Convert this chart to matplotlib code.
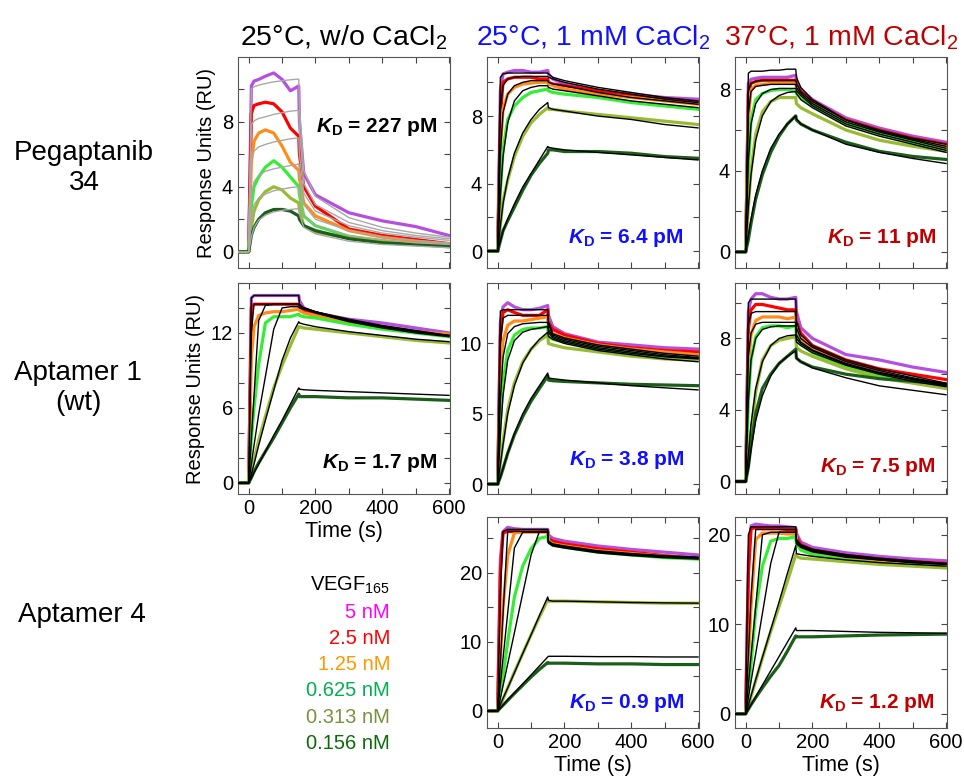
import matplotlib
matplotlib.use('Agg')
import matplotlib.pyplot as plt
from matplotlib.ticker import MultipleLocator

plt.rcParams['font.family'] = ['Liberation Sans', 'DejaVu Sans']
plt.rcParams['mathtext.fontset'] = 'custom'
plt.rcParams['mathtext.rm'] = 'Liberation Sans'
plt.rcParams['mathtext.it'] = 'Liberation Sans:italic:bold'
plt.rcParams['mathtext.bf'] = 'Liberation Sans:bold'

# time grid (s) shared by all sensorgrams
time_s = [-30, 0, 8, 16, 30, 50, 75, 100, 125, 150, 152, 165, 200, 300, 400, 500, 600]

conc_labels = ['5 nM', '2.5 nM', '1.25 nM', '0.625 nM', '0.313 nM', '0.156 nM']
legend_colors = ['#ff00ff', '#ff0000', '#ff9900', '#00b050', '#77933c', '#0b6b0b']
trace_colors = ['#b44fe0', '#ff0000', '#ff8c1a', '#33ee33', '#99bb33', '#1a5e1a']

col_titles = ['25°C, w/o CaCl$_2$', '25°C, 1 mM CaCl$_2$', '37°C, 1 mM CaCl$_2$']
title_colors = ['black', '#1010ff', '#c00000']
row_titles = ['Pegaptanib\n34', 'Aptamer 1\n(wt)', 'Aptamer 4']

# Pegaptanib, 25 C w/o CaCl2
peg_a_data = [
    [0, 0, 10.2, 10.5, 10.6, 10.8, 11.0, 10.6, 9.9, 10.2, 8.0, 4.8, 3.5, 2.4, 1.9, 1.55, 1.0],
    [0, 0, 8.5, 9.0, 9.1, 9.2, 9.1, 8.6, 7.6, 7.1, 6.0, 4.0, 2.8, 1.4, 1.0, 0.75, 0.5],
    [0, 0, 5.5, 6.8, 7.3, 7.5, 7.3, 6.5, 5.5, 5.0, 4.5, 3.0, 2.2, 1.3, 0.9, 0.65, 0.45],
    [0, 0, 2.8, 4.0, 4.6, 5.2, 5.6, 5.2, 4.6, 4.0, 3.5, 2.2, 1.6, 0.95, 0.65, 0.45, 0.3],
    [0, 0, 1.5, 2.5, 3.2, 3.7, 4.0, 3.8, 3.3, 3.0, 2.6, 1.6, 1.2, 0.85, 0.6, 0.5, 0.4],
    [0, 0, 1.0, 1.5, 2.0, 2.4, 2.6, 2.6, 2.5, 2.2, 2.0, 1.6, 1.3, 0.8, 0.55, 0.45, 0.35],
]
peg_a_fit = [
    [0, 0, 10.0, 10.15, 10.25, 10.35, 10.45, 10.52, 10.58, 10.62, 9.0, 5.0, 3.4, 2.1, 1.5, 1.15, 0.9],
    [0, 0, 7.8, 8.05, 8.2, 8.3, 8.45, 8.55, 8.65, 8.7, 7.5, 4.2, 2.9, 1.8, 1.3, 1.0, 0.8],
    [0, 0, 5.6, 6.2, 6.45, 6.6, 6.75, 6.85, 6.95, 7.0, 6.0, 3.6, 2.5, 1.6, 1.15, 0.9, 0.7],
    [0, 0, 3.5, 4.3, 4.7, 4.95, 5.1, 5.2, 5.3, 5.4, 4.7, 2.9, 2.0, 1.3, 0.9, 0.7, 0.55],
    [0, 0, 2.0, 2.9, 3.3, 3.55, 3.75, 3.85, 3.95, 4.0, 3.5, 2.2, 1.6, 1.0, 0.75, 0.55, 0.45],
    [0, 0, 0.9, 1.5, 1.95, 2.25, 2.45, 2.55, 2.6, 2.65, 2.3, 1.5, 1.1, 0.65, 0.45, 0.35, 0.25],
]

# Pegaptanib, 25 C 1 mM CaCl2
peg_b_data = [
    [0, 0, 9.5, 10.5, 10.6, 10.7, 10.7, 10.6, 10.6, 10.7, 10.5, 10.2, 9.9, 9.5, 9.3, 9.1, 9.0],
    [0, 0, 8.0, 10.0, 10.2, 10.3, 10.3, 10.3, 10.2, 10.2, 10.0, 9.9, 9.8, 9.5, 9.2, 9.0, 8.8],
    [0, 0, 6.0, 8.4, 9.3, 9.7, 9.9, 9.95, 10.0, 10.0, 9.9, 9.8, 9.6, 9.3, 9.1, 8.9, 8.7],
    [0, 0, 3.5, 6.0, 7.8, 8.6, 9.1, 9.4, 9.5, 9.6, 9.5, 9.4, 9.3, 9.1, 8.8, 8.6, 8.4],
    [0, 0, 1.5, 3.0, 4.2, 5.6, 6.8, 7.6, 8.1, 8.5, 8.4, 8.4, 8.3, 8.1, 7.9, 7.7, 7.5],
    [0, 0, 0.6, 1.2, 1.8, 2.6, 3.6, 4.5, 5.2, 5.8, 6.0, 6.0, 5.9, 5.9, 5.8, 5.6, 5.5],
]
peg_b_fit = [
    [0, 0, 10.3, 10.5, 10.55, 10.55, 10.55, 10.55, 10.55, 10.55, 10.5, 10.3, 10.1, 9.7, 9.4, 9.1, 8.9],
    [0, 0, 8.4, 9.8, 10.2, 10.3, 10.35, 10.35, 10.35, 10.35, 10.3, 10.2, 10.0, 9.6, 9.3, 9.0, 8.8],
    [0, 0, 5.8, 8.2, 9.3, 9.8, 10.0, 10.1, 10.1, 10.1, 10.0, 9.9, 9.8, 9.4, 9.1, 8.9, 8.7],
    [0, 0, 3.3, 5.6, 7.6, 8.9, 9.5, 9.7, 9.8, 9.8, 9.7, 9.6, 9.5, 9.2, 8.9, 8.7, 8.5],
    [0, 0, 1.5, 2.8, 4.3, 5.8, 7.0, 7.8, 8.4, 8.8, 8.5, 8.4, 8.3, 8.0, 7.8, 7.5, 7.3],
    [0, 0, 0.6, 1.2, 1.9, 2.8, 3.8, 4.6, 5.4, 6.2, 6.15, 6.1, 6.0, 5.85, 5.7, 5.55, 5.4],
]

# Pegaptanib, 37 C 1 mM CaCl2
peg_c_data = [
    [0, 0, 8.3, 8.5, 8.55, 8.6, 8.6, 8.6, 8.6, 8.7, 8.4, 8.0, 7.5, 6.6, 6.1, 5.7, 5.4],
    [0, 0, 7.8, 8.3, 8.4, 8.45, 8.45, 8.45, 8.45, 8.45, 8.2, 7.9, 7.4, 6.5, 6.0, 5.6, 5.3],
    [0, 0, 6.5, 8.0, 8.2, 8.25, 8.3, 8.3, 8.3, 8.3, 8.1, 7.8, 7.3, 6.4, 5.9, 5.5, 5.2],
    [0, 0, 4.2, 6.5, 7.5, 7.8, 7.95, 8.0, 8.0, 7.9, 7.8, 7.6, 7.2, 6.3, 5.8, 5.4, 5.0],
    [0, 0, 2.2, 4.0, 5.8, 6.9, 7.4, 7.6, 7.6, 7.6, 7.3, 7.1, 6.8, 6.0, 5.5, 5.2, 4.95],
    [0, 0, 0.6, 1.4, 2.6, 3.8, 4.9, 5.7, 6.3, 6.7, 6.5, 6.3, 6.0, 5.4, 4.95, 4.7, 4.55],
]
peg_c_fit = [
    [0, 0, 8.8, 8.9, 8.9, 8.9, 8.95, 8.95, 9.0, 9.0, 8.6, 8.1, 7.5, 6.5, 6.0, 5.6, 5.3],
    [0, 0, 7.9, 8.3, 8.4, 8.45, 8.45, 8.45, 8.45, 8.45, 8.3, 7.9, 7.4, 6.5, 5.95, 5.55, 5.2],
    [0, 0, 6.8, 7.9, 8.15, 8.2, 8.25, 8.25, 8.25, 8.25, 8.1, 7.8, 7.3, 6.4, 5.9, 5.5, 5.1],
    [0, 0, 4.5, 6.3, 7.3, 7.8, 8.0, 8.05, 8.05, 8.05, 7.95, 7.7, 7.2, 6.3, 5.8, 5.4, 5.0],
    [0, 0, 2.2, 3.8, 5.5, 6.7, 7.4, 7.7, 7.85, 7.9, 7.8, 7.5, 7.1, 6.2, 5.7, 5.3, 4.9],
    [0, 0, 0.8, 1.6, 2.8, 4.0, 5.1, 5.8, 6.3, 6.7, 6.55, 6.3, 6.0, 5.3, 4.9, 4.6, 4.35],
]

# Aptamer 1 (wt), 25 C w/o CaCl2
apt1_a_data = [
    [0, 0, 14.8, 15.0, 15.0, 15.0, 15.0, 15.0, 15.0, 15.0, 14.6, 14.0, 13.6, 13.1, 12.8, 12.4, 12.0],
    [0, 0, 14.0, 14.3, 14.3, 14.3, 14.3, 14.3, 14.3, 14.3, 14.1, 13.8, 13.5, 12.9, 12.5, 12.1, 11.8],
    [0, 0, 10.0, 12.5, 13.4, 13.6, 13.7, 13.7, 13.8, 13.9, 13.8, 13.6, 13.4, 12.8, 12.4, 12.1, 11.9],
    [0, 0, 3.5, 6.0, 9.5, 12.8, 13.3, 13.3, 13.3, 13.5, 13.4, 13.3, 13.2, 12.7, 12.3, 12.0, 11.7],
    [0, 0, 1.0, 1.8, 3.4, 5.3, 7.6, 9.4, 11.0, 12.5, 12.5, 12.4, 12.3, 12.0, 11.7, 11.4, 11.2],
    [0, 0, 0.4, 0.9, 1.6, 2.5, 3.6, 4.8, 6.0, 7.1, 6.9, 6.9, 6.9, 6.8, 6.8, 6.7, 6.6],
]
apt1_a_fit = [
    [0, 0, 14.8, 15.0, 15.0, 15.0, 15.0, 15.0, 15.0, 15.0, 14.3, 14.0, 13.7, 13.1, 12.6, 12.2, 11.8],
    [0, 0, 12.0, 14.3, 14.3, 14.3, 14.3, 14.3, 14.3, 14.3, 14.2, 14.0, 13.7, 13.0, 12.5, 12.1, 11.8],
    [0, 0, 3.5, 7.0, 13.0, 14.2, 14.3, 14.3, 14.3, 14.3, 14.2, 14.0, 13.7, 13.0, 12.5, 12.1, 11.8],
    [0, 0, 1.5, 3.0, 5.5, 8.5, 12.3, 14.0, 14.1, 14.1, 14.0, 13.9, 13.6, 12.9, 12.4, 12.0, 11.7],
    [0, 0, 0.7, 1.5, 3.0, 5.0, 7.4, 9.8, 11.6, 12.9, 12.8, 12.7, 12.5, 12.1, 11.8, 11.5, 11.3],
    [0, 0, 0.4, 0.8, 1.5, 2.5, 3.8, 5.0, 6.3, 7.6, 7.5, 7.45, 7.4, 7.3, 7.2, 7.1, 7.0],
]

# Aptamer 1 (wt), 25 C 1 mM CaCl2
apt1_b_data = [
    [0, 0, 11.5, 12.6, 12.9, 12.6, 12.4, 12.4, 12.5, 12.7, 12.0, 11.2, 10.7, 10.1, 9.9, 9.7, 9.6],
    [0, 0, 10.5, 12.2, 12.4, 12.2, 12.0, 12.0, 12.0, 12.4, 11.5, 11.0, 10.6, 10.0, 9.7, 9.5, 9.4],
    [0, 0, 7.5, 10.2, 11.3, 11.6, 11.6, 11.7, 11.8, 11.9, 11.0, 10.7, 10.4, 9.9, 9.6, 9.4, 9.2],
    [0, 0, 4.5, 7.2, 9.5, 10.6, 11.0, 11.1, 11.1, 11.2, 10.5, 10.3, 10.1, 9.6, 9.3, 9.1, 8.9],
    [0, 0, 1.5, 3.0, 5.3, 7.2, 8.7, 9.6, 10.2, 10.6, 10.0, 9.9, 9.7, 9.4, 9.1, 8.9, 8.8],
    [0, 0, 0.5, 1.1, 2.2, 3.5, 4.8, 5.9, 6.8, 7.7, 7.4, 7.35, 7.3, 7.2, 7.1, 7.05, 7.0],
]
apt1_b_fit = [
    [0, 0, 12.3, 12.4, 12.4, 12.4, 12.4, 12.4, 12.4, 12.4, 11.6, 10.7, 10.4, 9.9, 9.6, 9.3, 9.1],
    [0, 0, 10.0, 11.8, 12.0, 12.0, 12.0, 12.0, 12.0, 12.0, 11.4, 10.6, 10.3, 9.8, 9.5, 9.2, 9.0],
    [0, 0, 6.0, 9.0, 10.7, 11.2, 11.4, 11.45, 11.5, 11.5, 11.0, 10.5, 10.2, 9.7, 9.4, 9.1, 8.95],
    [0, 0, 3.5, 6.3, 8.8, 10.2, 10.8, 11.0, 11.1, 11.2, 10.8, 10.4, 10.1, 9.6, 9.3, 9.05, 8.9],
    [0, 0, 1.4, 2.8, 5.0, 7.0, 8.6, 9.6, 10.3, 10.8, 10.5, 10.3, 10.0, 9.5, 9.2, 8.9, 8.7],
    [0, 0, 0.5, 1.1, 2.2, 3.6, 5.0, 6.1, 7.0, 7.9, 7.55, 7.5, 7.4, 7.2, 7.0, 6.85, 6.7],
]

# Aptamer 1 (wt), 37 C 1 mM CaCl2
apt1_c_data = [
    [0, 0, 9.5, 10.2, 10.5, 10.5, 10.3, 10.2, 10.2, 10.3, 9.5, 8.6, 8.0, 7.1, 6.8, 6.4, 6.1],
    [0, 0, 8.5, 9.6, 9.9, 9.9, 9.8, 9.7, 9.6, 9.6, 8.9, 8.3, 7.6, 6.8, 6.3, 6.0, 5.7],
    [0, 0, 6.5, 8.2, 9.0, 9.2, 9.2, 9.2, 9.1, 9.2, 8.5, 8.0, 7.4, 6.6, 6.1, 5.7, 5.45],
    [0, 0, 4.5, 6.8, 8.1, 8.6, 8.7, 8.7, 8.6, 8.7, 8.1, 7.7, 7.2, 6.4, 5.9, 5.55, 5.3],
    [0, 0, 1.2, 2.8, 5.0, 6.8, 7.6, 7.9, 8.0, 8.1, 7.5, 7.3, 7.0, 6.3, 5.8, 5.5, 5.2],
    [0, 0, 0.8, 2.0, 3.8, 5.2, 6.0, 6.6, 7.0, 7.4, 6.9, 6.7, 6.4, 6.0, 5.75, 5.6, 5.45],
]
apt1_c_fit = [
    [0, 0, 10.0, 10.2, 10.2, 10.2, 10.2, 10.2, 10.2, 10.2, 9.0, 8.2, 7.6, 6.8, 6.3, 5.9, 5.5],
    [0, 0, 8.8, 9.4, 9.5, 9.5, 9.5, 9.5, 9.5, 9.5, 8.6, 8.0, 7.5, 6.7, 6.2, 5.8, 5.45],
    [0, 0, 7.0, 8.3, 8.8, 8.9, 8.9, 8.9, 8.9, 8.9, 8.2, 7.8, 7.35, 6.6, 6.1, 5.75, 5.4],
    [0, 0, 4.5, 6.8, 8.0, 8.5, 8.65, 8.7, 8.7, 8.7, 8.0, 7.7, 7.3, 6.55, 6.05, 5.7, 5.35],
    [0, 0, 1.5, 3.2, 5.2, 6.7, 7.6, 8.0, 8.15, 8.2, 7.8, 7.6, 7.2, 6.5, 6.0, 5.6, 5.3],
    [0, 0, 0.7, 1.8, 3.4, 4.8, 5.9, 6.6, 7.0, 7.3, 6.9, 6.7, 6.35, 5.8, 5.35, 5.1, 4.85],
]

# Aptamer 4, 25 C 1 mM CaCl2
apt4_b_data = [
    [0, 0, 22.0, 26.0, 26.6, 26.4, 26.3, 26.3, 26.3, 26.3, 25.5, 25.0, 24.6, 23.9, 23.4, 23.0, 22.6],
    [0, 0, 20.0, 25.8, 26.0, 26.0, 26.0, 26.0, 26.0, 26.0, 25.0, 24.6, 24.2, 23.5, 23.0, 22.5, 22.1],
    [0, 0, 7.5, 15.0, 22.5, 25.8, 25.9, 25.9, 25.9, 25.9, 24.6, 24.2, 23.9, 23.2, 22.8, 22.4, 22.1],
    [0, 0, 2.5, 5.0, 10.0, 16.5, 21.0, 23.5, 25.0, 25.3, 24.5, 24.0, 23.7, 23.0, 22.6, 22.2, 22.0],
    [0, 0, 0.8, 1.7, 3.3, 5.6, 8.3, 11.0, 13.6, 16.1, 15.9, 15.9, 15.9, 15.8, 15.7, 15.6, 15.6],
    [0, 0, 0.4, 0.8, 1.5, 2.5, 3.7, 4.9, 6.0, 7.0, 6.9, 6.9, 6.9, 6.8, 6.8, 6.7, 6.7],
]
apt4_b_fit = [
    [0, 0, 17.0, 26.0, 26.3, 26.3, 26.3, 26.3, 26.3, 26.3, 24.6, 24.2, 23.9, 23.2, 22.8, 22.5, 22.3],
    [0, 0, 7.0, 14.0, 26.0, 26.0, 26.0, 26.0, 26.0, 26.0, 24.5, 24.1, 23.8, 23.1, 22.7, 22.4, 22.2],
    [0, 0, 3.8, 7.6, 14.2, 23.6, 25.9, 25.9, 25.9, 25.9, 24.4, 24.0, 23.7, 23.0, 22.6, 22.3, 22.1],
    [0, 0, 1.8, 3.6, 6.8, 11.3, 17.0, 22.6, 26.0, 26.0, 24.3, 23.9, 23.6, 22.9, 22.5, 22.2, 22.0],
    [0, 0, 0.9, 1.8, 3.3, 5.5, 8.3, 11.0, 13.8, 16.5, 16.0, 15.9, 15.9, 15.8, 15.7, 15.65, 15.6],
    [0, 0, 0.4, 0.8, 1.6, 2.6, 3.9, 5.2, 6.5, 7.8, 7.9, 7.9, 7.9, 7.85, 7.85, 7.8, 7.8],
]

# Aptamer 4, 37 C 1 mM CaCl2
apt4_c_data = [
    [0, 0, 17.0, 21.0, 21.2, 21.1, 21.0, 21.0, 20.9, 20.8, 20.2, 19.2, 18.6, 18.0, 17.6, 17.3, 17.1],
    [0, 0, 15.5, 20.7, 20.8, 20.7, 20.7, 20.7, 20.6, 20.6, 19.8, 18.9, 18.3, 17.7, 17.3, 17.0, 16.8],
    [0, 0, 5.5, 12.0, 19.5, 20.2, 20.2, 20.2, 20.1, 20.1, 19.4, 18.6, 18.0, 17.4, 17.0, 16.7, 16.5],
    [0, 0, 2.5, 5.5, 11.5, 16.5, 19.3, 19.6, 19.6, 19.8, 19.0, 18.3, 17.8, 17.2, 16.8, 16.6, 16.4],
    [0, 0, 0.9, 1.9, 3.7, 6.2, 9.2, 12.0, 14.8, 17.8, 17.6, 17.4, 17.3, 17.0, 16.7, 16.5, 16.3],
    [0, 0, 0.5, 1.0, 1.8, 2.9, 4.2, 5.4, 7.0, 8.7, 8.6, 8.6, 8.6, 8.7, 8.8, 8.85, 8.9],
]
apt4_c_fit = [
    [0, 0, 20.0, 20.9, 20.9, 20.9, 20.9, 20.9, 20.9, 20.9, 19.5, 18.9, 18.4, 17.8, 17.4, 17.1, 16.8],
    [0, 0, 6.5, 13.0, 20.6, 20.6, 20.6, 20.6, 20.6, 20.6, 19.3, 18.8, 18.3, 17.7, 17.3, 17.0, 16.8],
    [0, 0, 3.2, 6.4, 12.0, 20.0, 20.3, 20.3, 20.3, 20.3, 19.1, 18.7, 18.2, 17.6, 17.2, 16.9, 16.7],
    [0, 0, 1.8, 3.6, 6.7, 11.2, 16.8, 20.3, 20.3, 20.3, 19.0, 18.6, 18.1, 17.5, 17.2, 16.9, 16.7],
    [0, 0, 1.0, 2.0, 3.8, 6.3, 9.4, 12.5, 15.7, 18.8, 17.9, 17.8, 17.6, 17.2, 16.9, 16.7, 16.5],
    [0, 0, 0.5, 1.0, 1.9, 3.2, 4.8, 6.4, 8.0, 9.6, 9.3, 9.3, 9.3, 9.2, 9.1, 9.05, 9.0],
]

kd_values = {(0, 0): '227', (0, 1): '6.4', (0, 2): '11',
             (1, 0): '1.7', (1, 1): '3.8', (1, 2): '7.5',
             (2, 1): '0.9', (2, 2): '1.2'}

# row, col, data, fit, ylim, major step, minor step, kd text anchor (axes frac)
panels = [
    (0, 0, peg_a_data, peg_a_fit, (-1.0, 11.98), 4, 2, (0.94, 0.645)),
    (0, 1, peg_b_data, peg_b_fit, (-1.0, 11.5), 4, 2, (0.925, 0.117)),
    (0, 2, peg_c_data, peg_c_fit, (-0.8, 9.6), 4, 2, (0.953, 0.117)),
    (1, 0, apt1_a_data, apt1_a_fit, (-0.9, 16.0), 6, 2, (0.94, 0.122)),
    (1, 1, apt1_b_data, apt1_b_fit, (-0.7, 14.3), 5, 5, (0.934, 0.137)),
    (1, 2, apt1_c_data, apt1_c_fit, (-0.7, 11.1), 4, 2, (0.948, 0.106)),
    (2, 1, apt4_b_data, apt4_b_fit, (-2.5, 28.1), 10, 5, (0.934, 0.093)),
    (2, 2, apt4_c_data, apt4_c_fit, (-1.6, 22.0), 10, 5, (0.94, 0.093)),
]

W, H = 964, 782
fig = plt.figure(figsize=(W / 100, H / 100), dpi=100)

col_left = [238, 487, 735]
row_top = [57, 283, 517]
ax_w, ax_h = 212, 211

for row, col, data, fit, ylim, major, minor, kdpos in panels:
    ax = fig.add_axes([col_left[col] / W, 1 - (row_top[row] + ax_h) / H, ax_w / W, ax_h / H])
    for i in range(6):
        ax.plot(time_s, data[i], color=trace_colors[i], lw=2.3, solid_joinstyle='round', zorder=2)
    fit_color = '#a8a8a8' if col == 0 and row == 0 else 'black'
    for i in range(6):
        ax.plot(time_s, fit[i], color=fit_color, lw=1.0, zorder=3)

    ax.set_xlim(-32, 603)
    ax.set_ylim(*ylim)
    ax.xaxis.set_major_locator(MultipleLocator(200))
    ax.xaxis.set_minor_locator(MultipleLocator(100))
    ax.yaxis.set_major_locator(MultipleLocator(major))
    ax.yaxis.set_minor_locator(MultipleLocator(minor))
    ax.tick_params(which='both', direction='in', top=True, right=True,
                   labelsize=14.5, color='#444444', width=0.8, length=4)
    for s in ax.spines.values():
        s.set_color('#555555')
        s.set_linewidth(0.8)

    show_x = (row == 1 and col == 0) or row == 2
    if show_x:
        ax.set_xlabel('Time (s)', fontsize=15.5, labelpad=2)
    else:
        ax.tick_params(labelbottom=False)
    if col == 0:
        ax.set_ylabel('Response Units (RU)', fontsize=14.5, labelpad=4)

    ax.text(kdpos[0], kdpos[1], r'$\mathit{K}_{\mathbf{D}}$ = ' + kd_values[(row, col)] + ' pM',
            transform=ax.transAxes, ha='right', va='baseline', fontsize=15,
            fontweight='bold', color=title_colors[col], zorder=5)

# column titles
for col in range(3):
    fig.text((col_left[col] + ax_w / 2) / W, 1 - 38 / H, col_titles[col],
             ha='center', va='center', fontsize=20.5, color=title_colors[col])

# row titles
row_y = [168, 388, 615]
row_x = [84, 78, 82]
for r in range(3):
    fig.text(row_x[r] / W, 1 - row_y[r] / H, row_titles[r], ha='center', va='center',
             fontsize=20, linespacing=1.2)

# concentration legend
fig.text(390 / W, 1 - 585 / H, 'VEGF$_{165}$', ha='right', va='center', fontsize=14.5)
for i, lab in enumerate(conc_labels):
    fig.text(390 / W, 1 - (612 + i * 26.3) / H, lab, ha='right', va='center',
             fontsize=14.5, color=legend_colors[i])

fig.savefig('out.png', dpi=100)
